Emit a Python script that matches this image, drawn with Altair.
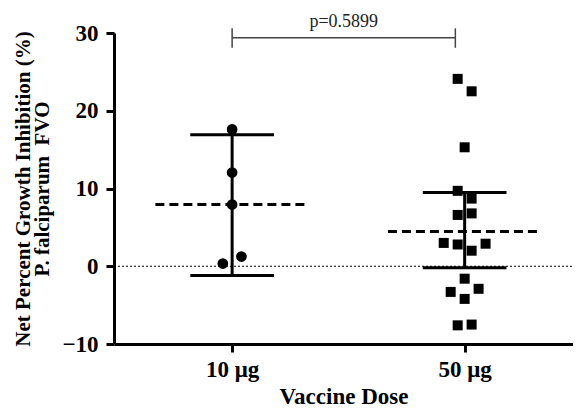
import altair as alt
import pandas as pd

# ---- data ----
dose_labels = ["10 μg", "50 μg"]
dose_pos = [1, 2]

vals_10 = [17.6, 12.05, 7.94, 0.35, 1.25]
jit_10 = [0, 0, 0, -0.04, 0.04]

vals_50 = [24.1, 22.5, 15.3, 9.7, 8.7, 6.6, 6.8, 3.0, 2.8, 2.0, 2.9,
           -1.6, -3.3, -2.9, -4.2, -7.6, -7.5]
jit_50 = [-0.03, 0.03, 0, -0.03, 0.03, -0.03, 0.03, -0.09, -0.03, 0.03, 0.09,
          0, -0.06, 0.06, 0, -0.03, 0.03]

means = [7.94, 4.46]
upper = [16.9, 9.5]
lower = [-1.2, -0.2]

p_text = "p=0.5899"
bracket_x = [1.0, 1.96]
bracket_y = 29.4
bracket_lo, bracket_hi = 28.1, 30.6

y_title = ["Net Percent Growth Inhibition (%)", "P. falciparum\u00a0 FVO"]
x_title = "Vaccine Dose"

FONT = "Liberation Serif"
XMIN, XMAX = 0.492, 2.466

pts10 = pd.DataFrame({"x": [dose_pos[0] + j for j in jit_10], "y": vals_10})
pts50 = pd.DataFrame({"x": [dose_pos[1] + j for j in jit_50], "y": vals_50})
summ = pd.DataFrame({
    "pos": dose_pos, "mean": means, "hi": upper, "lo": lower,
})
summ["m1"] = summ["pos"] - 0.33
summ["m2"] = summ["pos"] + 0.33
summ["c1"] = summ["pos"] - 0.18
summ["c2"] = summ["pos"] + 0.18

label_expr = f"datum.value == 1 ? '{dose_labels[0]}' : '{dose_labels[1]}'"

xscale = alt.Scale(domain=[XMIN, XMAX], nice=False, zero=False)
yscale = alt.Scale(domain=[-10, 30], nice=False, zero=False)

xax = alt.Axis(values=dose_pos, labelExpr=label_expr, title=x_title,
               grid=False, titlePadding=4, labelPadding=6)
yax = alt.Axis(values=[-10, 0, 10, 20, 30], grid=False, title=y_title,
               titlePadding=9, labelPadding=8, titleLineHeight=19)

base = alt.Chart(summ)

zero = alt.Chart(pd.DataFrame({"y": [0], "x1": [XMIN], "x2": [XMAX]})).mark_rule(
    color="black", strokeWidth=1, strokeDash=[2, 2]
).encode(
    x=alt.X("x1:Q", scale=xscale, axis=xax),
    x2="x2:Q",
    y=alt.Y("y:Q", scale=yscale, axis=yax),
)

mean_line = base.mark_rule(color="black", strokeWidth=3, strokeDash=[9, 5]).encode(
    x=alt.X("m1:Q", scale=xscale), x2="m2:Q", y=alt.Y("mean:Q", scale=yscale)
)
vbar = base.mark_rule(color="black", strokeWidth=3).encode(
    x=alt.X("pos:Q", scale=xscale), y=alt.Y("lo:Q", scale=yscale), y2="hi:Q"
)
cap_hi = base.mark_rule(color="black", strokeWidth=3).encode(
    x=alt.X("c1:Q", scale=xscale), x2="c2:Q", y=alt.Y("hi:Q", scale=yscale)
)
cap_lo = base.mark_rule(color="black", strokeWidth=3).encode(
    x=alt.X("c1:Q", scale=xscale), x2="c2:Q", y=alt.Y("lo:Q", scale=yscale)
)

circ = alt.Chart(pts10).mark_point(shape="circle", filled=True, color="black",
                                   size=115, opacity=1).encode(
    x=alt.X("x:Q", scale=xscale), y=alt.Y("y:Q", scale=yscale)
)
sq = alt.Chart(pts50).mark_point(shape="square", filled=True, color="black",
                                 size=100, opacity=1).encode(
    x=alt.X("x:Q", scale=xscale), y=alt.Y("y:Q", scale=yscale)
)

br = pd.DataFrame({"x1": [bracket_x[0]], "x2": [bracket_x[1]], "y": [bracket_y]})
br_h = alt.Chart(br).mark_rule(color="#444444", strokeWidth=1.5, clip=False).encode(
    x=alt.X("x1:Q", scale=xscale), x2="x2:Q", y=alt.Y("y:Q", scale=yscale)
)
brv = pd.DataFrame({"x": bracket_x, "lo": [bracket_lo] * 2, "hi": [bracket_hi] * 2})
br_v = alt.Chart(brv).mark_rule(color="#444444", strokeWidth=1.5, clip=False).encode(
    x=alt.X("x:Q", scale=xscale), y=alt.Y("lo:Q", scale=yscale), y2="hi:Q"
)
ptxt = alt.Chart(pd.DataFrame({"x": [sum(bracket_x) / 2], "y": [30.8], "t": [p_text]})).mark_text(
    font=FONT, fontSize=18, color="#222222", baseline="alphabetic", align="center", clip=False
).encode(
    x=alt.X("x:Q", scale=xscale), y=alt.Y("y:Q", scale=yscale), text="t:N"
)

chart = alt.layer(
    zero, mean_line, vbar, cap_hi, cap_lo, circ, sq, br_h, br_v, ptxt
).properties(
    width=459, height=311,
    autosize=alt.AutoSizeParams(type="none"),
    padding={"left": 106, "top": 25, "right": 0, "bottom": 64},
).configure_view(
    stroke=None
).configure_axis(
    domainColor="black", domainWidth=3, tickColor="black", tickWidth=3, tickSize=8,
    labelFont=FONT, labelFontSize=23, labelFontWeight="bold", labelColor="black",
    titleFont=FONT, titleFontWeight="bold", titleColor="black",
).configure_axisY(
    titleFontSize=21
).configure_axisX(
    titleFontSize=23
)

chart.save("out.html", embed_options={"renderer": "svg", "actions": False})
